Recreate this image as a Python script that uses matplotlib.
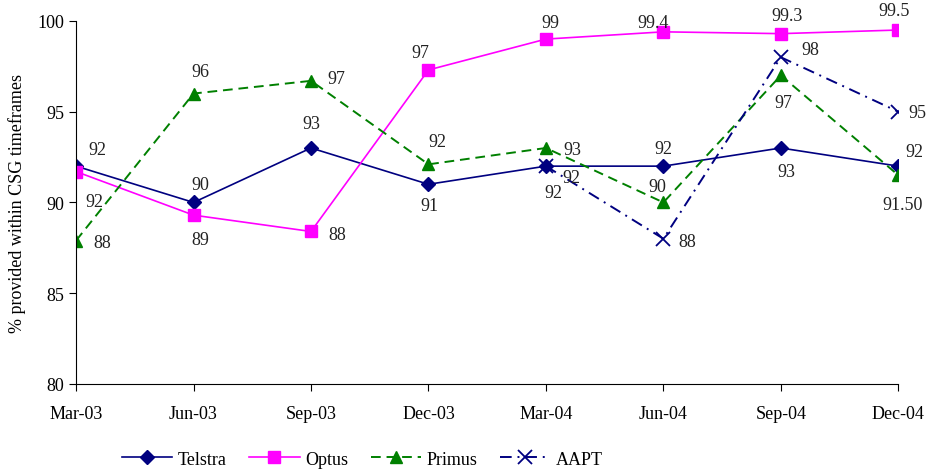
import numpy as np
import matplotlib
matplotlib.use("Agg")
import matplotlib.pyplot as plt

plt.rcParams['font.family'] = ['Liberation Serif', 'DejaVu Serif']

quarters = ['Mar-03', 'Jun-03', 'Sep-03', 'Dec-03', 'Mar-04', 'Jun-04', 'Sep-04', 'Dec-04']

telstra = [92, 90, 93, 91, 92, 92, 93, 92]
optus = [91.7, 89.3, 88.4, 97.3, 99.0, 99.4, 99.3, 99.5]
primus = [87.9, 96.0, 96.7, 92.1, 93.0, 90.0, 97.0, 91.5]
aapt = [np.nan, np.nan, np.nan, np.nan, 92, 88, 98, 95]

telstra_lbl = ['92', '90', '93', '91', '92', '92', '93', '92']
optus_lbl = ['92', '89', '88', '97', '99', '99.4', '99.3', '99.5']
primus_lbl = ['88', '96', '97', '92', '93', '90', '97', '91.50']
aapt_lbl = [None, None, None, None, '92', '88', '98', '95']

# label offsets in pixels (dx, dy up)
telstra_off = [(21, 17), (7, 18), (0, 24), (1, -21), (7, -26), (0, 18), (6, -24), (16, 15)]
optus_off = [(18, -30), (7, -24), (26, -3), (-8, 17), (4, 17), (-10, 9), (6, 18), (-4, 20)]
primus_off = [(26, -2), (7, 22), (25, 2), (9, 23), (26, -2), (-6, 16), (2, -27), (4, -29)]
aapt_off = [None, None, None, None, (25, -11), (24, -3), (29, 8), (19, -1)]

fig = plt.figure(figsize=(9.28, 4.77), dpi=100)
ax = fig.add_axes([0.082, 0.193, 0.886, 0.761])

x = np.arange(len(quarters))
navy = '#000080'
ax.plot(x, telstra, color=navy, lw=1.2, marker='D', ms=7, label='Telstra')
ax.plot(x, optus, color='#FF00FF', lw=1.2, marker='s', ms=8, label='Optus')
ax.plot(x, primus, color='#008000', lw=1.4, ls=(0, (5, 3)), marker='^', ms=9, label='Primus')
ax.plot(x, aapt, color=navy, lw=1.4, ls=(0, (6, 3, 1, 3)), marker='x', ms=10, mew=1.3, label='AAPT')

for vals, lbls, offs in [(telstra, telstra_lbl, telstra_off), (optus, optus_lbl, optus_off),
                         (primus, primus_lbl, primus_off), (aapt, aapt_lbl, aapt_off)]:
    for i, (v, l, o) in enumerate(zip(vals, lbls, offs)):
        if l is None:
            continue
        ax.annotate(l, (x[i], v), xytext=(o[0] * 0.72, o[1] * 0.72), textcoords='offset points',
                    ha='center', va='center', fontsize=13, color='#222222')

ax.set_xlim(0, 7)
ax.set_ylim(80, 100)
ax.set_yticks([80, 85, 90, 95, 100])
ax.set_xticks(x)
ax.set_xticklabels(quarters)
ax.tick_params(labelsize=13, direction='out', length=5, colors='black')
ax.tick_params(axis='x', pad=10)
ax.spines['top'].set_visible(False)
ax.spines['right'].set_visible(False)
ax.set_ylabel('% provided within CSG timeframes', fontsize=13, labelpad=8)

ax.legend(loc='center', bbox_to_anchor=(0.348, -0.207), ncol=4, frameon=False, fontsize=13,
          handlelength=2.8, columnspacing=1.25, handletextpad=0.3)

fig.savefig('out.png', dpi=100)
